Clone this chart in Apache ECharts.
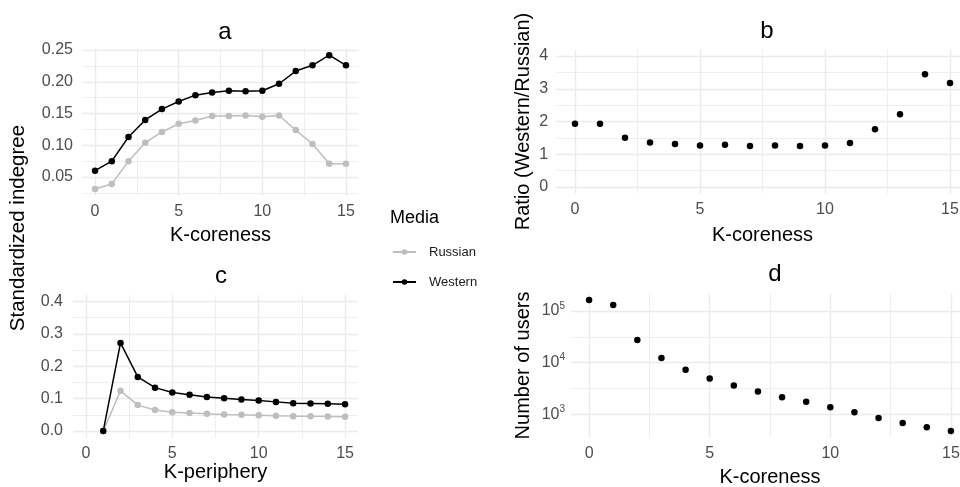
<!DOCTYPE html>
<html>
<head>
<meta charset="utf-8">
<script src="https://cdn.jsdelivr.net/npm/echarts@6/dist/echarts.min.js"></script>
<style>
  html, body { margin: 0; padding: 0; background: #fff; }
  #chart { width: 960px; height: 487px; }
</style>
</head>
<body>
<div id="chart"></div>
<script>
// values
const kCore = [0, 1, 2, 3, 4, 5, 6, 7, 8, 9, 10, 11, 12, 13, 14, 15];
const kPeriph = [1, 2, 3, 4, 5, 6, 7, 8, 9, 10, 11, 12, 13, 14, 15];
const coreRussian = [0.031, 0.039, 0.075, 0.104, 0.121, 0.134, 0.139, 0.146, 0.146, 0.147, 0.145, 0.147, 0.124, 0.102, 0.071, 0.071];
const coreWestern = [0.060, 0.075, 0.113, 0.140, 0.157, 0.169, 0.179, 0.183, 0.186, 0.185, 0.186, 0.197, 0.217, 0.226, 0.242, 0.226];
const periphRussian = [0, 0.124, 0.080, 0.065, 0.058, 0.056, 0.053, 0.051, 0.050, 0.049, 0.047, 0.046, 0.046, 0.045, 0.044];
const periphWestern = [0, 0.272, 0.167, 0.134, 0.119, 0.112, 0.105, 0.101, 0.097, 0.094, 0.090, 0.086, 0.085, 0.084, 0.083];
const ratio = [1.93, 1.93, 1.50, 1.36, 1.31, 1.27, 1.29, 1.25, 1.27, 1.25, 1.27, 1.34, 1.76, 2.22, 3.44, 3.18];
const users = [163000, 130000, 27300, 12300, 7250, 4900, 3600, 2740, 2120, 1730, 1360, 1080, 838, 671, 555, 471];

// tick positions
const xMajor = [0, 5, 10, 15];
const xMinor = [2.5, 7.5, 12.5];
const aMajor = [0.05, 0.10, 0.15, 0.20, 0.25];
const aMinor = [0.025, 0.075, 0.125, 0.175, 0.225];
const bMajor = [0, 1, 2, 3, 4];
const bMinor = [0.5, 1.5, 2.5, 3.5];
const cMajor = [0, 0.1, 0.2, 0.3, 0.4];
const cMinor = [0.05, 0.15, 0.25, 0.35];
const dMajor = [1000, 10000, 100000];
const dMinor = [3162.28, 31622.8];

const FONT = '"Liberation Sans", Arial, sans-serif';
const RUS = '#bebebe';
const WES = '#000000';
const GRID = '#ebebeb';

const tickText = { fontFamily: FONT, fontSize: 16, color: '#4d4d4d' };
const nameText = { fontFamily: FONT, fontSize: 20, color: '#000' };

function xAxes(grid, name, gap) {
  return [{
    type: 'value', gridIndex: grid, min: -0.75, max: 15.75,
    name: name, nameLocation: 'middle', nameGap: gap, nameTextStyle: nameText,
    axisLine: { show: false },
    axisTick: { show: false, customValues: xMajor },
    axisLabel: Object.assign({ customValues: xMajor, margin: 8 }, tickText),
    splitLine: { show: true, lineStyle: { color: GRID, width: 1.4 } }
  }, {
    type: 'value', gridIndex: grid, min: -0.75, max: 15.75, position: 'bottom',
    axisLine: { show: false },
    axisTick: { show: false, customValues: xMinor },
    axisLabel: { show: false, customValues: xMinor },
    splitLine: { show: true, lineStyle: { color: GRID, width: 0.8 } }
  }];
}

function yAxes(grid, type, min, max, majors, minors, fmt, name, gap, margin, rich) {
  const label = Object.assign({ customValues: majors, margin: margin, formatter: fmt }, tickText);
  if (rich) label.rich = rich;
  return [{
    type: type, gridIndex: grid, min: min, max: max,
    name: name, nameLocation: 'middle', nameGap: gap, nameTextStyle: nameText,
    axisLine: { show: false },
    axisTick: { show: false, customValues: majors },
    axisLabel: label,
    splitLine: { show: true, lineStyle: { color: GRID, width: 1.4 } }
  }, {
    type: type, gridIndex: grid, min: min, max: max, position: 'left',
    axisLine: { show: false },
    axisTick: { show: false, customValues: minors },
    axisLabel: { show: false, customValues: minors },
    splitLine: { show: true, lineStyle: { color: GRID, width: 0.8 } }
  }];
}

function pairs(xs, ys) {
  return xs.map((x, i) => [x, ys[i]]);
}

function lineSeries(name, color, xi, yi, xs, ys) {
  return {
    name: name, type: 'line', xAxisIndex: xi, yAxisIndex: yi,
    data: pairs(xs, ys), symbol: 'circle', symbolSize: 6.5,
    lineStyle: { color: color, width: 1.5 }, itemStyle: { color: color, opacity: 1 },
    silent: true, animation: false
  };
}

function dotSeries(name, xi, yi, xs, ys) {
  return {
    name: name, type: 'scatter', xAxisIndex: xi, yAxisIndex: yi,
    data: pairs(xs, ys), symbol: 'circle', symbolSize: 6.5,
    itemStyle: { color: '#000', opacity: 1 }, silent: true, animation: false
  };
}

const titleStyle = { fontFamily: FONT, fontSize: 24, fontWeight: 'normal', color: '#000' };

const chart = echarts.init(document.getElementById('chart'));
chart.setOption({
  backgroundColor: '#fff',
  animation: false,
  title: [
    { text: 'a', left: 220, top: 15, textAlign: 'center', textStyle: titleStyle },
    { text: 'b', left: 762, top: 14, textAlign: 'center', textStyle: titleStyle },
    { text: 'c', left: 216, top: 259, textAlign: 'center', textStyle: titleStyle },
    { text: 'd', left: 770, top: 257, textAlign: 'center', textStyle: titleStyle }
  ],
  legend: {
    data: ['Russian', 'Western'], orient: 'vertical', left: 392, top: 245.5, padding: 0,
    itemWidth: 23, itemHeight: 7, itemGap: 17,
    textStyle: { fontFamily: FONT, fontSize: 13, color: '#1a1a1a', padding: [0, 0, 0, 8] }
  },
  graphic: [
    { type: 'text', x: 390, y: 218, style: { text: 'Media', font: '18px ' + FONT, fill: '#000', textVerticalAlign: 'middle' } },
    { type: 'text', x: 18, y: 228, rotation: Math.PI / 2,
      style: { text: 'Standardized indegree', font: '20.5px ' + FONT, fill: '#000', textAlign: 'center', textVerticalAlign: 'middle' } }
  ],
  grid: [
    { left: 82.5, top: 48.5, width: 276, height: 147, outerBoundsMode: 'none' },
    { left: 556.25, top: 49.5, width: 412.5, height: 144, outerBoundsMode: 'none' },
    { left: 73, top: 295, width: 285, height: 142.5, outerBoundsMode: 'none' },
    { left: 571, top: 293.5, width: 398, height: 144, outerBoundsMode: 'none' }
  ],
  xAxis: [].concat(
    xAxes(0, 'K-coreness', 30),
    xAxes(1, 'K-coreness', 32),
    xAxes(2, 'K-periphery', 24),
    xAxes(3, 'K-coreness', 30)
  ),
  yAxis: [].concat(
    yAxes(0, 'value', 0.0209, 0.2525, aMajor, aMinor, v => v.toFixed(2), '', 0, 9.5),
    yAxes(1, 'value', -0.2, 4.2, bMajor, bMinor, v => String(v), 'Ratio (Western/Russian)', 23, 8),
    yAxes(2, 'value', -0.02, 0.42, cMajor, cMinor, v => v.toFixed(1), '', 0, 10),
    yAxes(3, 'log', 351.6, 218300, dMajor, dMinor,
      v => '{b|10}{s|' + Math.round(Math.log10(v)) + '}', 'Number of users', 38, 6,
      { b: { fontFamily: FONT, fontSize: 16, lineHeight: 20, color: '#4d4d4d' },
        s: { fontFamily: FONT, fontSize: 10, lineHeight: 20, verticalAlign: 'top', color: '#4d4d4d' } })
  ),
  series: [
    lineSeries('Russian', RUS, 0, 0, kCore, coreRussian),
    lineSeries('Western', WES, 0, 0, kCore, coreWestern),
    dotSeries('Ratio', 2, 2, kCore, ratio),
    lineSeries('Russian', RUS, 4, 4, kPeriph, periphRussian),
    lineSeries('Western', WES, 4, 4, kPeriph, periphWestern),
    dotSeries('Users', 6, 6, kCore, users)
  ]
});
window.addEventListener('resize', () => chart.resize());
</script>
</body>
</html>
